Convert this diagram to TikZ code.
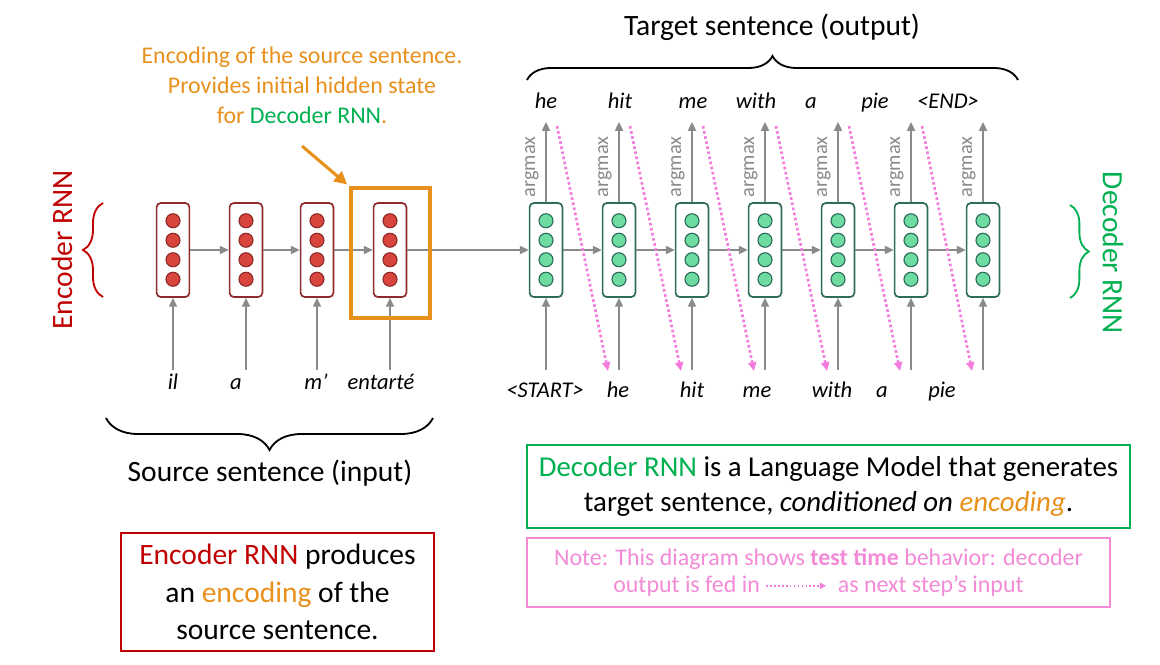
\documentclass[tikz,border=0pt]{standalone}
\usepackage{fontspec}
\setmainfont{Carlito}
\usetikzlibrary{arrows.meta, decorations.pathreplacing, positioning}
\definecolor{encred}{HTML}{C00000}
\definecolor{cellred}{HTML}{8E2A2A}
\definecolor{dotred}{HTML}{D8453D}
\definecolor{cellteal}{HTML}{2D6B5B}
\definecolor{dotgreen}{HTML}{6EDCA0}
\definecolor{decgreen}{HTML}{00B050}
\definecolor{encorange}{HTML}{E8901C}
\definecolor{notepink}{HTML}{F28AD6}
\definecolor{feedpink}{HTML}{F47CDC}
\definecolor{arrgray}{HTML}{8A8A8A}

\begin{document}
\begin{tikzpicture}[x=0.025cm, y=-0.025cm,
    enccell/.style={draw=cellred, line width=1.2pt, rounded corners=3pt,
                    minimum width=0.82cm, minimum height=2.35cm},
    deccell/.style={enccell, draw=cellteal},
    encdot/.style={fill=dotred, draw=cellred, line width=0.8pt},
    decdot/.style={fill=dotgreen, draw=cellteal, line width=0.8pt},
    flow/.style={-{Triangle[length=2.2mm, width=2mm]}, draw=arrgray, line width=1.2pt},
    feed/.style={-{Triangle[length=2.2mm, width=2mm]}, draw=feedpink, line width=1.9pt,
                 dash pattern=on 1.9pt off 1.8pt},
    hint/.style={-{Triangle[length=3.2mm, width=3.2mm]}, draw=encorange, line width=2.2pt},
    curly/.style={decorate, line width=1.3pt},
    word/.style={anchor=base, font=\fontsize{16}{19}\selectfont\itshape},
    tag/.style={rotate=90, text=arrgray, font=\fontsize{14.5}{16}\selectfont},
    title/.style={font=\fontsize{21}{25}\selectfont},
    textbox/.style={draw, line width=1.4pt, align=center, inner sep=0pt}
  ]
  \useasboundingbox (0,0) rectangle (1160,665);

  \foreach \x [count=\i] in {173,246,317,390} {
    \node[enccell] (enc\i) at (\x,250) {};
    \foreach \k in {-1.5,-0.5,0.5,1.5}
      \filldraw[encdot] (\x,250+19.5*\k) circle[radius=0.175cm];
    \coordinate (encin\i) at (\x,370);
    \draw[flow] (encin\i) -- (enc\i);
  }
  \foreach \i/\j in {1/2,2/3,3/4}
    \draw[flow] (enc\i) -- (enc\j);

  \node[word] (src1) at (173,389) {il};
  \node[word] (src2) at (236,389) {a};
  \node[word] (src3) at (316,389) {m’};
  \node[word] (src4) at (381,389) {entarté};

  \foreach \x [count=\i] in {546,619,692,765,838,911,983} {
    \node[deccell] (dec\i) at (\x,250) {};
    \foreach \k in {-1.5,-0.5,0.5,1.5}
      \filldraw[decdot] (\x,250+19.5*\k) circle[radius=0.175cm];
    \coordinate (decin\i) at (\x,370);
    \coordinate (decout\i) at (\x,122);
    \coordinate (fbs\i) at (\x+11,126);
    \coordinate (fbe\i) at (\x-11,371);
    \draw[flow] (decin\i) -- (dec\i);
    \draw[flow] (dec\i) -- (decout\i);
    \node[tag] (am\i) at (\x-14,167) {argmax};
  }
  \foreach \i/\j in {1/2,2/3,3/4,4/5,5/6,6/7} {
    \draw[flow] (dec\i) -- (dec\j);
    \draw[feed] (fbs\i) -- (fbe\j);
  }
  \draw[flow] (enc4) -- (dec1);

  \node[word] (tgt1) at (546,108) {he};
  \node[word] (tgt2) at (620,108) {hit};
  \node[word] (tgt3) at (693,108) {me};
  \node[word] (tgt4) at (756,108) {with};
  \node[word] (tgt5) at (811,108) {a};
  \node[word] (tgt6) at (875,108) {pie};
  \node[word] (tgt7) at (948,108) {<END>};

  \node[word] (inp1) at (545,397) {<START>};
  \node[word] (inp2) at (618,397) {he};
  \node[word] (inp3) at (692,397) {hit};
  \node[word] (inp4) at (757,397) {me};
  \node[word] (inp5) at (832,397) {with};
  \node[word] (inp6) at (882,397) {a};
  \node[word] (inp7) at (942,397) {pie};

  \node[draw=encorange, line width=2.4pt, minimum width=1.975cm,
        minimum height=3.25cm] (encbox) at (390.5,253) {};
  \node[align=center, text=encorange, font=\fontsize{17}{21.3}\selectfont]
    (enclabel) at (302,85) {Encoding of the source sentence.\\
    Provides initial hidden state\\ for \textcolor{decgreen}{Decoder RNN}.};
  \coordinate (enctip) at (302,146);
  \draw[hint, shorten >=2pt] (enctip) -- (encbox.north west);

  \draw[curly, draw=encred, decoration={brace, amplitude=0.5cm}] (103,297) -- (103,203);
  \node[rotate=90, text=encred, title] (enclab) at (62,250) {Encoder RNN};
  \draw[curly, draw=decgreen, decoration={brace, amplitude=0.47cm}] (1070,205) -- (1070,298);
  \node[rotate=-90, text=decgreen, title] (declab) at (1113,253) {Decoder RNN};

  \draw[curly, decoration={brace, amplitude=0.6cm}] (527,80) -- (1018,80);
  \node[title] (tgttitle) at (772,27) {Target sentence (output)};
  \draw[curly, decoration={brace, amplitude=0.8cm}] (433,418) -- (106,418);
  \node[title] (srctitle) at (270,473) {Source sentence (input)};

  \node[textbox, draw=encred, minimum width=7.825cm, minimum height=2.95cm,
        font=\fontsize{21}{26.5}\selectfont] (encnote) at (277.5,592)
    {\textcolor{encred}{Encoder RNN} produces\\ an \textcolor{encorange}{encoding} of the\\
     source sentence.};
  \node[textbox, draw=decgreen, minimum width=15.075cm, minimum height=2.075cm,
        font=\fontsize{20.5}{25.5}\selectfont] (decnote) at (828.5,486.5)
    {\textcolor{decgreen}{Decoder RNN} is a Language Model that generates\\
     target sentence, \textit{conditioned on \textcolor{encorange}{encoding}}.};
  \node[textbox, draw=notepink, text=notepink, minimum width=14.575cm,
        minimum height=1.725cm, font=\fontsize{17}{19.5}\selectfont] (testnote) at (818.5,572.5)
    {Note: This diagram shows \textbf{test time} behavior: decoder\\
     output is fed in \tikz[baseline=-0.6ex]\draw[-{Triangle[length=1.6mm, width=1.6mm]},
     draw=feedpink, line width=1.2pt, dash pattern=on 1.2pt off 1.6pt]
     (0cm,0cm) -- (1.5cm,0cm);\ \ as next step’s input};
\end{tikzpicture}
\end{document}
